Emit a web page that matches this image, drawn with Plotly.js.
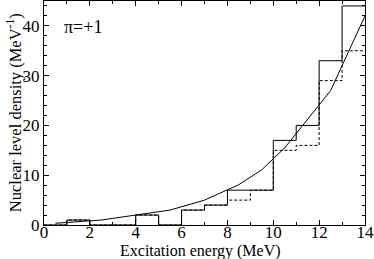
<!DOCTYPE html>
<html>
<head>
<meta charset="utf-8">
<script src="https://cdn.plot.ly/plotly-3.0.1.min.js"></script>
<style>html,body{margin:0;padding:0;background:#fff;}#chart{width:374px;height:259px;}</style>
</head>
<body>
<div id="chart"></div>
<script>
// Bin edges (MeV) and per-bin level densities
const binEdges = [0,1,2,3,4,5,6,7,8,9,10,11,12,13,14];
const solidDensity = [0,1,0,0,2,0,3,4,7,7,17,20,33,44];
const dashedDensity = [0,1,0,0,2,0,3,4,5,7,15,16,29,35];
// Smooth curve
const curveEnergy = [0.5, 2.5, 5.5, 7, 8.5, 9.5, 10.5, 12.5, 14];
const curveDensity = [0.35, 1.0, 3.0, 5.0, 8.1, 11.1, 15.5, 27, 42];

const xTitle = 'Excitation energy (MeV)';
const yTitle = 'Nuclear level density (MeV<sup>-1</sup>)';
const panelLabel = 'π=+1';

const serif = 'Liberation Serif';

const stepY = arr => arr.concat([arr[arr.length-1]]);

const traces = [
  {x: binEdges, y: stepY(solidDensity), mode: 'lines', line: {shape: 'hv', color: '#000', width: 1}, hoverinfo: 'skip'},
  {x: binEdges, y: stepY(dashedDensity), mode: 'lines', line: {shape: 'hv', color: '#000', width: 1, dash: '3px,2px'}, hoverinfo: 'skip'},
  {x: curveEnergy, y: curveDensity, mode: 'lines', line: {color: '#000', width: 1}, hoverinfo: 'skip'}
];

const layout = {
  width: 374, height: 259,
  margin: {l: 44, r: 9, t: 1, b: 34},
  paper_bgcolor: '#fff', plot_bgcolor: '#fff',
  showlegend: false,
  font: {family: serif, size: 17, color: '#000'},
  xaxis: {
    range: [0, 14], dtick: 2, tick0: 0, tickmode: 'linear',
    showgrid: false, zeroline: false, showline: true, linecolor: '#000', linewidth: 1,
    mirror: 'allticks', ticks: 'inside', ticklen: 5, tickwidth: 1, tickcolor: '#000',
    tickfont: {family: serif, size: 17, color: '#000'},
    ticklabelstandoff: -8,
    minor: {dtick: 1, ticks: 'inside', ticklen: 3, tickcolor: '#000', tickwidth: 1}
  },
  yaxis: {
    range: [0, 45], dtick: 10, tick0: 0, tickmode: 'linear',
    showgrid: false, zeroline: false, showline: true, linecolor: '#000', linewidth: 1,
    mirror: 'allticks', ticks: 'inside', ticklen: 5, tickwidth: 1, tickcolor: '#000',
    tickfont: {family: serif, size: 17, color: '#000'},
    minor: {dtick: 2, ticks: 'inside', ticklen: 3, tickcolor: '#000', tickwidth: 1}
  },
  annotations: [
    {text: panelLabel, xref: 'paper', yref: 'paper', x: 0.055, y: 0.885, xanchor: 'left', yanchor: 'middle',
     showarrow: false, font: {family: serif, size: 18, color: '#000'}},
    {text: xTitle, xref: 'paper', yref: 'paper', x: 0.486, y: -0.118, xanchor: 'center', yanchor: 'middle',
     showarrow: false, font: {family: serif, size: 16, color: '#000'}},
    {text: yTitle, xref: 'paper', yref: 'paper', x: -0.093, y: 0.5, xanchor: 'center', yanchor: 'middle',
     textangle: -90, showarrow: false, font: {family: serif, size: 16.5, color: '#000'}}
  ]
};

Plotly.newPlot('chart', traces, layout, {staticPlot: true, displayModeBar: false});
</script>
</body>
</html>
